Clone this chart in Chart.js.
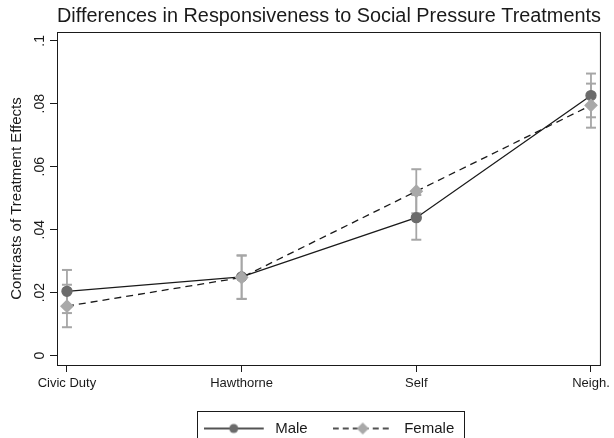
<!DOCTYPE html>
<html>
<head>
<meta charset="utf-8">
<script src="https://cdn.jsdelivr.net/npm/chart.js@4/dist/chart.umd.min.js"></script>
<style>
  html, body { margin: 0; padding: 0; background: #fff; }
  #wrap { width: 614px; height: 438px; }
</style>
</head>
<body>
<div id="wrap"><canvas id="myChart"></canvas></div>
<script>
const categories = ['Civic Duty', 'Hawthorne', 'Self', 'Neigh.']
const maleEffect = [0.0204, 0.0250, 0.0438, 0.0826]
const maleLow = [0.0135, 0.0180, 0.0368, 0.0757]
const maleHigh = [0.0272, 0.0318, 0.0510, 0.0896]
const femaleEffect = [0.0157, 0.0248, 0.0522, 0.0795]
const femaleLow = [0.0090, 0.0180, 0.0452, 0.0724]
const femaleHigh = [0.0225, 0.0318, 0.0592, 0.0864]

const maleColor = '#6b6b6b'
const femaleColor = '#a9a9a9'
const barColor = '#a6a6a6'
const ink = '#1a1a1a'
const fontFamily = 'Liberation Sans, Arial, sans-serif'

const toPoints = (vals) => vals.map((v, i) => ({ x: i, y: v }))

// legend glyph: line with the marker in the middle (4px blank on the right)
const makeIcon = (dashed, marker) => {
    const c = document.createElement('canvas')
    c.width = 64
    c.height = 14
    const g = c.getContext('2d')
    g.strokeStyle = ink
    g.lineWidth = 1.3
    if (dashed) g.setLineDash([6, 4])
    g.beginPath()
    g.moveTo(0, 7)
    g.lineTo(60, 7)
    g.stroke()
    g.setLineDash([])
    if (marker === 'circle') {
        g.fillStyle = maleColor
        g.beginPath()
        g.arc(30, 7, 4.5, 0, Math.PI * 2)
        g.fill()
    } else {
        g.fillStyle = femaleColor
        g.beginPath()
        g.moveTo(30, 1)
        g.lineTo(36, 7)
        g.lineTo(30, 13)
        g.lineTo(24, 7)
        g.closePath()
        g.fill()
    }
    return c
}
const icons = [makeIcon(false, 'circle'), makeIcon(true, 'diamond')]

const errorBars = []
categories.forEach((c, i) => {
    [[maleLow, maleHigh], [femaleLow, femaleHigh]].forEach(([lo, hi]) => {
        errorBars.push({
            label: 'ci',
            data: [{ x: i, y: lo[i] }, { x: i, y: hi[i] }],
            showLine: true,
            borderColor: barColor,
            borderWidth: 1.8,
            pointStyle: 'line',
            pointRadius: 5,
            pointBorderWidth: 2,
            pointBorderColor: barColor,
            order: 3
        })
    })
})

const frame = {
    id: 'frame',
    afterDraw(chart) {
        const ctx = chart.ctx
        const a = chart.chartArea
        ctx.save()
        ctx.strokeStyle = ink
        ctx.lineWidth = 1
        ctx.strokeRect(a.left + 0.5, a.top + 0.5, a.right - a.left - 1, a.bottom - a.top)
        const boxes = chart.legend.legendHitBoxes
        if (boxes && boxes.length) {
            const left = Math.min(...boxes.map(b => b.left)) - 7
            const right = Math.max(...boxes.map(b => b.left + b.width)) + 9
            const top = Math.min(...boxes.map(b => b.top)) - 10
            ctx.strokeRect(Math.round(left) + 0.5, Math.round(top) + 0.5, Math.round(right - left), 60)
        }
        ctx.restore()
    }
}

const config = {
    type: 'scatter',
    data: {
        datasets: [
            {
                label: 'Male',
                data: toPoints(maleEffect),
                showLine: true,
                borderColor: ink,
                borderWidth: 1.3,
                pointStyle: 'circle',
                pointRadius: 5,
                pointBackgroundColor: maleColor,
                pointBorderColor: maleColor,
                order: 1
            },
            {
                label: 'Female',
                data: toPoints(femaleEffect),
                showLine: true,
                borderColor: ink,
                borderWidth: 1.3,
                borderDash: [7, 5],
                pointStyle: 'rectRot',
                pointRadius: 6,
                pointBackgroundColor: femaleColor,
                pointBorderColor: femaleColor,
                order: 0
            },
            ...errorBars
        ]
    },
    options: {
        responsive: true,
        maintainAspectRatio: false,
        animation: false,
        layout: { padding: { left: 0, right: 8, top: 0, bottom: -8 } },
        scales: {
            x: {
                type: 'linear',
                min: -0.057,
                max: 3.057,
                border: { display: false },
                grid: { drawOnChartArea: false, drawTicks: true, tickLength: 7, color: ink },
                ticks: {
                    stepSize: 1,
                    includeBounds: false,
                    autoSkip: false,
                    maxRotation: 0,
                    padding: 4,
                    color: ink,
                    font: { family: fontFamily, size: 13 },
                    callback: (v) => categories[v] ?? ''
                },
                afterFit: (s) => { s.height = 31 }
            },
            y: {
                min: -0.003,
                max: 0.1028,
                border: { display: false },
                grid: { drawOnChartArea: false, drawTicks: true, tickLength: 7, color: ink },
                ticks: {
                    stepSize: 0.02,
                    includeBounds: false,
                    minRotation: 90,
                    maxRotation: 90,
                    crossAlign: 'center',
                    padding: 0,
                    color: ink,
                    font: { family: fontFamily, size: 14 },
                    callback: (v) => {
                        const s = String(+v.toFixed(2))
                        return s.replace(/^0\./, '.')
                    }
                },
                title: {
                    display: true,
                    text: 'Contrasts of Treatment Effects',
                    color: ink,
                    font: { family: fontFamily, size: 15 },
                    padding: { top: 8, bottom: 0 }
                },
                afterFit: (s) => { s.width = 57 }
            }
        },
        plugins: {
            title: {
                display: true,
                fullSize: false,
                text: 'Differences in Responsiveness to Social Pressure Treatments',
                color: ink,
                font: { family: fontFamily, size: 20, weight: 'normal' },
                padding: { top: 4, bottom: 4 }
            },
            legend: {
                position: 'bottom',
                fullSize: false,
                labels: {
                    usePointStyle: true,
                    pointStyleWidth: 64,
                    boxHeight: 14,
                    padding: 25,
                    color: ink,
                    font: { family: fontFamily, size: 15 },
                    generateLabels: (chart) => {
                        const items = Chart.defaults.plugins.legend.labels.generateLabels(chart)
                            .filter(item => item.datasetIndex < 2)
                            .sort((a, b) => a.datasetIndex - b.datasetIndex)
                        items.forEach(item => { item.pointStyle = icons[item.datasetIndex] })
                        return items
                    }
                }
            },
            tooltip: { enabled: false }
        }
    },
    plugins: [frame]
}

const myChart = new Chart(document.getElementById('myChart'), config)
</script>
</body>
</html>
